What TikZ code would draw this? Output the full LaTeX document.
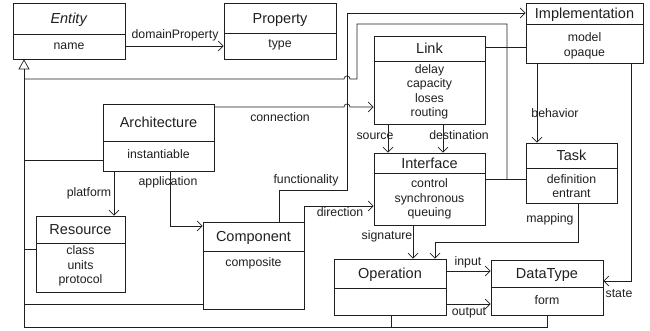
\documentclass[tikz,border=0pt]{standalone}
\usepackage{fontspec}
\setmainfont{Liberation Sans}
\usetikzlibrary{arrows.meta,fit}

\definecolor{ink}{gray}{0.12}
\tikzset{
 classframe/.style={draw=ink, line width=0.75pt, inner sep=0pt},
 classline/.style={draw=ink, line width=0.75pt},
 titletext/.style={text=ink, font=\fontsize{14.5}{17}\selectfont, inner sep=0pt, text height=10.4pt, text depth=0pt},
 attrtext/.style={text=ink, font=\fontsize{12.3}{14.5}\selectfont, inner sep=0pt, align=center},
 lbl/.style={text=ink, font=\fontsize{12.3}{14.5}\selectfont, inner sep=0pt, text height=9pt, text depth=2.6pt},
 conn/.style={draw=ink, line width=0.7pt},
 assoc/.style={conn, -{Straight Barb[length=5pt,width=10pt]}},
 inh/.style={conn, -{Triangle[open,length=10pt,width=11pt]}},
}

% name, x1, y1, x2, y2, ydiv, title, attributes, attribute centre y
\newcommand\umlclass[9]{%
  \node[classframe, fit={(#2,#3)(#4,#5)}] (#1) {};
  \draw[classline] (#2,#6) -- (#4,#6);
  \node[titletext] (#1-title) at ({(#2+#4)/2}, {(#3+#6)/2}) {#7};
  \node[attrtext] (#1-attrs) at ({(#2+#4)/2}, #9) {#8};
}

\begin{document}
\begin{tikzpicture}[x=1pt,y=-1pt]
\useasboundingbox (0,0) rectangle (650,331);

\umlclass{Entity}{13}{3}{125}{59}{34}{\textit{Entity}}{name}{46}
\umlclass{Property}{224}{3}{336}{59}{33}{Property}{type}{45}
\umlclass{Implementation}{526}{3}{643}{63}{24}{Implementation}{model\\opaque}{46}
\umlclass{Link}{374}{36}{485}{124}{61}{Link}{delay\\capacity\\loses\\routing}{92}
\umlclass{Architecture}{103}{104}{214}{171}{141}{Architecture}{instantiable}{154}
\umlclass{Interface}{374}{153}{485}{225}{173}{Interface}{control\\synchronous\\queuing}{199}
\umlclass{Task}{526}{143}{617}{203}{168}{Task}{definition\\entrant}{186}
\umlclass{Resource}{36}{216}{125}{292}{243}{Resource}{class\\units\\protocol}{266}
\umlclass{Component}{203}{222}{304}{309}{251}{Component}{composite}{263}
\umlclass{Operation}{334}{259}{446}{315}{288}{Operation}{}{301}
\umlclass{DataType}{491}{260}{603}{315}{287}{DataType}{form}{300}

% generalisation tree
\coordinate (tb) at (24,327);
\draw[inh] (tb) -- (tb |- Entity.south);
\coordinate (db) at (547,327);
\draw[conn] (tb) -- (db) -- (db |- DataType.south);
\coordinate (ob) at (391,327);
\draw[conn] (ob) -- (ob |- Operation.south);
\coordinate (cb) at (24,304);
\draw[conn] (cb) -- (cb -| Component.west);
\coordinate (rb) at (24,249);
\draw[conn] (rb) -- (rb -| Resource.west);
\coordinate (ab) at (24,160);
\draw[conn] (ab) -- (ab -| Architecture.west);
\coordinate (gb) at (24,79);
\coordinate (hA) at (344,79);
\coordinate (hB) at (350,79);
\coordinate (g1) at (357,79);
\coordinate (g2) at (357,24);
\coordinate (g3) at (507,24);
\coordinate (g4) at (507,179);
\draw[conn] (gb) -- (hA) .. controls (344,75) and (350,75) .. (hB) -- (g1) -- (g2) -- (g3) -- (g4);
\draw[conn] (g4 -| Interface.east) -- (g4 -| Task.west);
\coordinate (gl) at (507,47);
\draw[conn] (gl -| Link.east) -- (gl -| Implementation.west);

% associations
\coordinate (dp) at (125,46);
\draw[assoc] (Entity.east |- dp) -- (dp -| Property.west);
\node[lbl] (l-dp) at (175,35) {domainProperty};

\coordinate (f1) at (279,190);
\coordinate (f2) at (347,190);
\coordinate (f3) at (347,13);
\draw[assoc] (f1 |- Component.north) -- (f1) -- (f2) -- (f3) -- (f3 -| Implementation.west);
\node[lbl] (l-fn) at (306,180) {functionality};

\coordinate (c1) at (214,107);
\coordinate (hC) at (344,107);
\coordinate (hD) at (350,107);
\draw[assoc] (Architecture.east |- c1) -- (hC) .. controls (344,103) and (350,103) .. (hD) -- (c1 -| Link.west);
\node[lbl] (l-cn) at (280,118) {connection};

\coordinate (p1) at (114,190);
\draw[assoc] (p1 |- Architecture.south) -- (p1 |- Resource.north);
\node[lbl] (l-pf) at (89,193) {platform};

\coordinate (a1) at (170,226);
\draw[assoc] (a1 |- Architecture.south) -- (a1) -- (a1 -| Component.west);
\node[lbl] (l-ap) at (168,182) {application};

\coordinate (d1) at (304,206);
\draw[assoc] (d1 |- Component.north) -- (d1) -- (d1 -| Interface.west);
\node[lbl] (l-dr) at (340,213) {direction};

\coordinate (s1) at (388,140);
\draw[assoc] (s1 |- Link.south) -- (s1 |- Interface.north);
\node[lbl] (l-src) at (375,136) {source};

\coordinate (s2) at (443,140);
\draw[assoc] (s2 |- Link.south) -- (s2 |- Interface.north);
\node[lbl] (l-dst) at (459,136) {destination};

\coordinate (b1) at (537,100);
\draw[assoc] (b1 |- Implementation.south) -- (b1 |- Task.north);
\node[lbl] (l-bh) at (555,114) {behavior};

\coordinate (st) at (631,281);
\draw[assoc] (st |- Implementation.south) -- (st) -- (st -| DataType.east);
\node[lbl] (l-st) at (619,294) {state};

\coordinate (m1) at (578,242);
\coordinate (m2) at (435,242);
\draw[assoc] (m1 |- Task.south) -- (m1) -- (m2) -- (m2 |- Operation.north);
\node[lbl] (l-mp) at (550,219) {mapping};

\coordinate (sg) at (413,240);
\draw[assoc] (sg |- Interface.south) -- (sg |- Operation.north);
\node[lbl] (l-sg) at (387,236) {signature};

\coordinate (in) at (470,271);
\draw[assoc] (in -| Operation.east) -- (in -| DataType.west);
\node[lbl] (l-in) at (468,262) {input};

\coordinate (out) at (470,304);
\draw[assoc] (out -| Operation.east) -- (out -| DataType.west);
\node[lbl] (l-out) at (469,312) {output};
\end{tikzpicture}
\end{document}
